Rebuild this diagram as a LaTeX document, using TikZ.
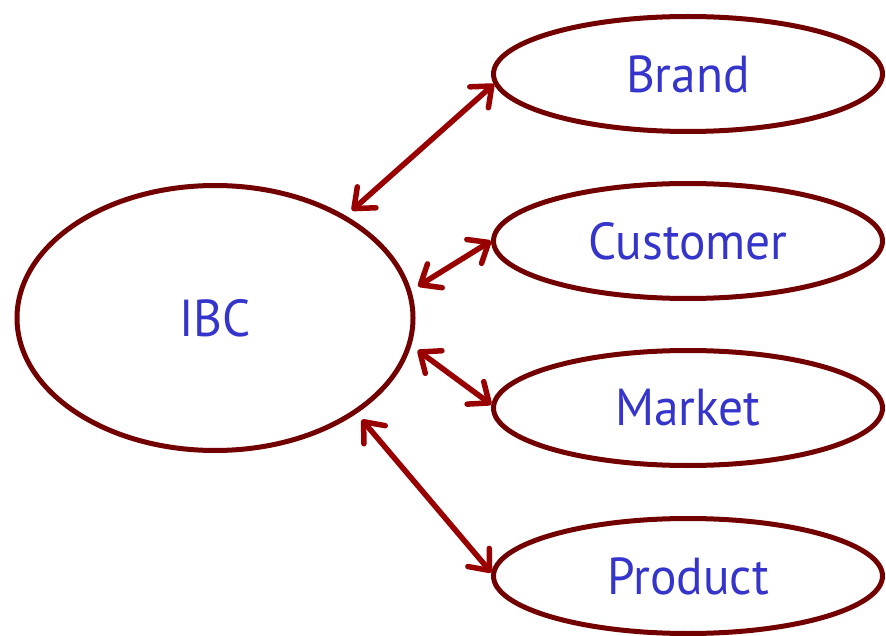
\documentclass[tikz,border=0pt]{standalone}
\usepackage{fontspec}
\setmainfont{PT Sans}[FakeStretch=0.95]
\usetikzlibrary{shapes.geometric,arrows.meta}
\definecolor{ringred}{HTML}{730000}
\definecolor{arrred}{HTML}{990000}
\definecolor{txtblue}{HTML}{3535CC}
\tikzset{
  ring/.style={ellipse, draw=ringred, line width=5pt, inner sep=0pt, text=txtblue,
    font=\fontsize{52}{62}\selectfont},
  bigring/.style={ring, minimum width=396pt, minimum height=265pt},
  smallring/.style={ring, minimum width=389pt, minimum height=115pt},
  link/.style={draw=arrred, line width=5.5pt, line cap=round,
    {Straight Barb[length=17pt,width=28pt,round]}-{Straight Barb[length=17pt,width=28pt,round]}}
}
\begin{document}
\begin{tikzpicture}[x=1pt,y=1pt]
\useasboundingbox (0,0) rectangle (886,-636);
\node[bigring] (ibc) at (215,-318) {IBC};
\node[smallring] (brand) at (688,-74) {Brand};
\node[smallring] (customer) at (688,-241) {Customer};
\node[smallring] (market) at (688,-408) {Market};
\node[smallring] (product) at (688,-576) {Product};
\draw[link, shorten <=8pt] (ibc.38.8) -- (brand.183);
\draw[link, shorten <=8pt] (ibc.8.3) -- (customer.180);
\draw[link, shorten <=8pt] (ibc.-8.3) -- (market.179);
\draw[link, shorten <=8pt] (ibc.-34) -- (product.179);
\end{tikzpicture}
\end{document}
